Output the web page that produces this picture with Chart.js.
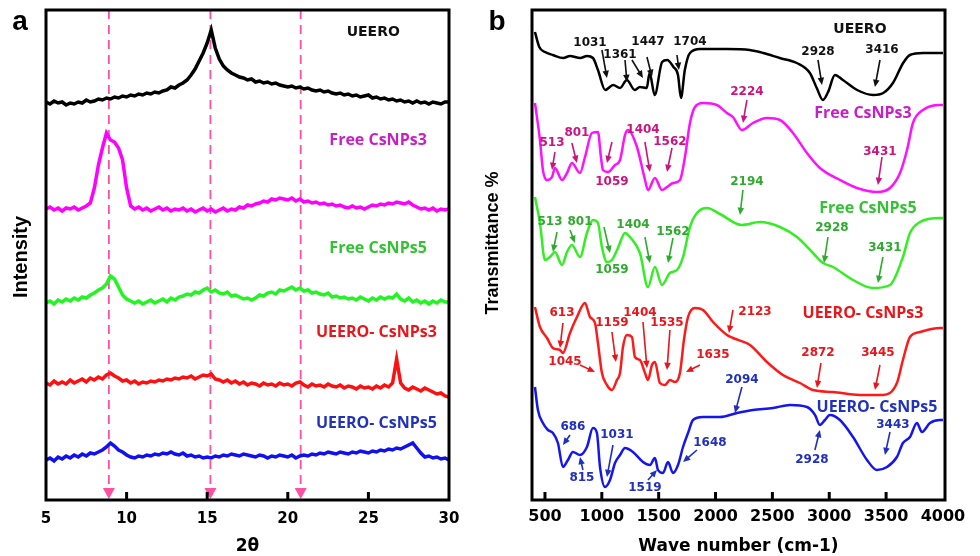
<!DOCTYPE html>
<html>
<head>
<meta charset="utf-8">
<script src="https://cdn.jsdelivr.net/npm/chart.js@4.4.1/dist/chart.umd.min.js"></script>
<style>
  html, body { margin: 0; padding: 0; background: #fff; }
  #wrap { position: relative; width: 980px; height: 556px; overflow: hidden; }
  #xrd { position: absolute; left: 0; top: 0; }
  #ftir { position: absolute; left: 470px; top: 0; }
</style>
</head>
<body>
<div id="wrap">
  <canvas id="xrd" width="470" height="556"></canvas>
  <canvas id="ftir" width="510" height="556"></canvas>
</div>
<script>
// ---------- panel a : XRD, 2θ from 5 to 30 in 0.25° steps ----------
const twoTheta = Array.from({ length: 101 }, (_, i) => 5 + i * 0.25);
const xrdTicks = [5, 10, 15, 20, 25, 30];
const xrdPeakLines = [8.9, 15.2, 20.8];

const xrdUeero = [
  398, 396, 399, 397, 398, 395, 397, 396, 398, 397, 400, 398, 399, 401, 400, 402,
  401, 403, 402, 404, 403, 405, 404, 406, 405, 407, 406, 408, 407, 409, 410, 413,
  412, 415, 417, 420, 425, 431, 439, 447, 457, 470, 452, 441, 434, 430, 427, 425,
  423, 422, 420, 421, 418, 419, 417, 418, 416, 417, 415, 414, 413, 414, 412, 413,
  411, 412, 410, 409, 410, 408, 409, 407, 406, 407, 405, 406, 404, 405, 403, 404,
  405, 402, 403, 401, 402, 400, 401, 399, 400, 398, 399, 397, 399, 397, 398, 396,
  398, 397, 396, 398, 398
];
const xrdFree3 = [
  291, 293, 290, 292, 289, 292, 291, 293, 290, 292, 294, 297, 312, 335, 352, 367,
  360, 358, 352, 340, 312, 294, 291, 293, 290, 292, 289, 291, 293, 290, 292, 289,
  291, 290, 292, 289, 291, 288, 290, 292, 289, 291, 288, 290, 292, 289, 291, 290,
  293, 292, 295, 294, 296, 297, 299, 298, 301, 300, 302, 301, 300, 302, 299, 301,
  298, 299, 297, 298, 296, 297, 295, 296, 294, 295, 293, 292, 294, 292, 293, 291,
  293, 295, 294, 296, 295, 297, 296, 298, 297, 296, 298, 295, 293, 291, 292, 290,
  292, 289, 291, 290, 291
];
const xrdFree5 = [
  197, 199, 196, 200, 198, 201, 199, 202, 200, 203, 202, 205, 207, 210, 212, 216,
  224, 221, 213, 205, 201, 199, 197, 199, 196, 198, 200, 197, 199, 201, 198, 202,
  200, 203, 204, 206, 205, 208, 207, 210, 212, 208, 210, 207, 206, 208, 204, 205,
  203, 201, 202, 200, 202, 205, 204, 207, 208, 206, 210, 209, 211, 213, 210, 212,
  209, 210, 207, 208, 206, 205, 207, 203, 204, 202, 203, 201, 202, 200, 203, 201,
  199, 202, 200, 203, 201, 203, 202, 206, 201, 199, 202, 198, 200, 197, 199, 196,
  199, 197, 200, 198, 198
];
const xrdCs3 = [
  117, 115, 119, 116, 118, 116, 120, 117, 119, 121, 118, 122, 120, 123, 121, 125,
  127, 124, 122, 119, 120, 117, 119, 116, 118, 117, 119, 118, 120, 119, 121, 120,
  122, 121, 123, 122, 124, 121, 123, 125, 124, 126, 121, 120, 118, 120, 117, 119,
  116, 118, 115, 117, 116, 114, 117, 115, 116, 114, 117, 115, 116, 114, 117, 118,
  115, 113, 116, 114, 115, 113, 116, 114, 113, 115, 112, 114, 113, 111, 114, 112,
  113, 111, 114, 112, 115, 113, 117, 141, 117, 112, 110, 113, 111, 109, 112, 110,
  108, 106, 107, 104, 103
];
const xrdCs5 = [
  40, 42, 39, 43, 41, 44, 42, 45, 43, 46, 44, 47, 46, 48, 50, 53,
  57, 54, 50, 48, 45, 43, 42, 44, 43, 45, 44, 46, 45, 47, 46, 48,
  46, 45, 47, 44, 45, 43, 44, 42, 43, 42, 44, 43, 45, 44, 46, 45,
  44, 46, 45, 44, 43, 45, 44, 42, 44, 43, 45, 44, 43, 45, 42, 44,
  45, 44, 46, 45, 47, 46, 48, 47, 46, 48, 47, 46, 48, 47, 49, 48,
  47, 49, 48, 50, 49, 51, 50, 52, 51, 53, 55, 57, 52, 47, 43, 44,
  42, 43, 41, 42, 40
];

const xrdLabels = [
  { text: 'UEERO', x: 25.3, y: 468, color: '#111111', font: 'bold 14px "DejaVu Sans"' },
  { text: 'Free CsNPs3', x: 25.6, y: 360, color: '#c81ec8' },
  { text: 'Free CsNPs5', x: 25.6, y: 252, color: '#33c233' },
  { text: 'UEERO- CsNPs3', x: 25.5, y: 168, color: '#e8161b' },
  { text: 'UEERO- CsNPs5', x: 25.5, y: 77, color: '#2233bb' }
];

// ---------- panel b : FTIR ----------
const ftirTicks = [500, 1000, 1500, 2000, 2500, 3000, 3500, 4000];

const ueeroWn = [412, 450, 500, 570, 660, 720, 810, 870, 922, 966, 1030, 1100, 1160, 1220, 1290, 1335,
  1395, 1420, 1465, 1530, 1575, 1630, 1670, 1696, 1730, 1775, 1865, 2100, 2300, 2420, 2565, 2715,
  2830, 2890, 2945, 2990, 3050, 3120, 3245, 3385, 3475, 3560, 3650, 3710, 3825, 4000];
const ueeroT = [468, 453, 448, 445, 442, 444, 442, 444, 442, 430, 410, 415, 412, 420, 410, 413,
  412, 427, 405, 438, 440, 433, 425, 402, 430, 447, 451, 451, 450, 447, 442, 437,
  427, 412, 400, 408, 425, 420, 410, 405, 407, 417, 437, 445, 447, 447];

const free3Wn = [412, 456, 482, 518, 562, 588, 650, 694, 737, 808, 852, 913, 966, 992, 1010, 1054,
  1116, 1160, 1204, 1230, 1309, 1380, 1406, 1467, 1529, 1573, 1626, 1687, 1731, 1775, 1819, 1890,
  2012, 2100, 2153, 2232, 2329, 2452, 2567, 2681, 2804, 2918, 3094, 3244, 3420, 3534, 3622, 3684,
  3736, 3824, 3974, 4000];
const free3T = [397, 360, 330, 320, 323, 332, 320, 327, 337, 327, 343, 367, 368, 343, 330, 328,
  335, 340, 365, 370, 353, 320, 310, 322, 310, 313, 317, 320, 343, 377, 393, 397,
  395, 387, 383, 370, 377, 382, 380, 367, 347, 332, 320, 312, 308, 312, 327, 350,
  377, 390, 395, 395];

const free5Wn = [412, 456, 500, 544, 588, 650, 694, 737, 808, 869, 922, 966, 1001, 1045, 1089, 1142,
  1204, 1247, 1335, 1406, 1467, 1529, 1599, 1661, 1714, 1775, 1837, 1925, 2039, 2232, 2391, 2567,
  2716, 2857, 2945, 3033, 3209, 3385, 3534, 3648, 3710, 3798, 3974, 4000];
const free5T = [303, 277, 240, 243, 248, 235, 248, 255, 243, 267, 280, 277, 253, 238, 240, 252,
  267, 263, 247, 213, 233, 215, 227, 230, 243, 273, 287, 292, 286, 275, 278, 273,
  263, 247, 237, 233, 220, 212, 215, 243, 267, 278, 282, 282];

const cs3Wn = [412, 456, 518, 570, 632, 658, 720, 781, 852, 896, 940, 966, 1001, 1045, 1089, 1133,
  1160, 1186, 1221, 1265, 1291, 1335, 1380, 1406, 1441, 1467, 1511, 1555, 1599, 1643, 1687, 1722,
  1758, 1819, 1890, 1978, 2101, 2153, 2303, 2452, 2593, 2743, 2857, 3033, 3270, 3472, 3595, 3648,
  3710, 3798, 3974, 4000];
const cs3T = [193, 173, 162, 152, 150, 147, 167, 183, 197, 183, 177, 157, 127, 115, 110, 120,
  127, 153, 165, 163, 143, 140, 127, 120, 135, 138, 117, 115, 120, 118, 127, 160,
  183, 192, 190, 178, 165, 162, 155, 138, 125, 117, 110, 108, 105, 105, 117, 140,
  163, 168, 172, 172];

const cs5Wn = [412, 438, 482, 526, 570, 614, 658, 702, 746, 808, 869, 922, 957, 984, 1028, 1072,
  1116, 1160, 1204, 1274, 1362, 1423, 1467, 1494, 1538, 1582, 1626, 1670, 1714, 1758, 1802, 1890,
  2039, 2188, 2329, 2505, 2655, 2804, 2875, 2918, 2962, 3006, 3094, 3209, 3332, 3420, 3508, 3595,
  3648, 3710, 3771, 3815, 3886, 3974, 4000];
const cs5T = [113, 90, 77, 70, 67, 57, 33, 40, 48, 45, 53, 72, 67, 33, 13, 20,
  37, 45, 52, 48, 38, 35, 42, 30, 27, 38, 27, 35, 53, 67, 80, 83,
  83, 87, 90, 92, 95, 93, 85, 75, 80, 85, 80, 63, 40, 30, 33, 43,
  57, 63, 77, 68, 77, 80, 80];

// peak labels: text position (tx, ty) and arrow from (x1, y1) to tip (x2, y2), all in data units
const ftirNotes = [
  // UEERO
  { t: '1031', c: '#111', tx: 896, ty: 457, x1: 1001, y1: 450, x2: 1045, y2: 422 },
  { t: '1361', c: '#111', tx: 1160, ty: 445, x1: 1204, y1: 440, x2: 1221, y2: 418 },
  { t: '', c: '#111', tx: 0, ty: 0, x1: 1265, y1: 440, x2: 1362, y2: 422 },
  { t: '1447', c: '#111', tx: 1406, ty: 458, x1: 1397, y1: 443, x2: 1441, y2: 423 },
  { t: '1704', c: '#111', tx: 1775, ty: 458, x1: 1661, y1: 445, x2: 1678, y2: 430 },
  { t: '2928', c: '#111', tx: 2901, ty: 448, x1: 2901, y1: 440, x2: 2936, y2: 415 },
  { t: '3416', c: '#111', tx: 3464, ty: 450, x1: 3446, y1: 440, x2: 3402, y2: 413 },
  // Free CsNPs3
  { t: '513', c: '#c8157f', tx: 562, ty: 357, x1: 588, y1: 348, x2: 562, y2: 330 },
  { t: '801', c: '#c8157f', tx: 781, ty: 367, x1: 737, y1: 357, x2: 781, y2: 337 },
  { t: '1059', c: '#c8157f', tx: 1089, ty: 318, x1: 1089, y1: 358, x2: 1045, y2: 337 },
  { t: '1404', c: '#c8157f', tx: 1362, ty: 370, x1: 1379, y1: 358, x2: 1423, y2: 328 },
  { t: '1562', c: '#c8157f', tx: 1599, ty: 358, x1: 1617, y1: 352, x2: 1573, y2: 328 },
  { t: '2224', c: '#c8157f', tx: 2276, ty: 408, x1: 2276, y1: 400, x2: 2241, y2: 377 },
  { t: '3431', c: '#c8157f', tx: 3446, ty: 348, x1: 3464, y1: 343, x2: 3428, y2: 315 },
  // Free CsNPs5
  { t: '513', c: '#2faa2f', tx: 544, ty: 278, x1: 606, y1: 268, x2: 570, y2: 248 },
  { t: '801', c: '#2faa2f', tx: 808, ty: 278, x1: 720, y1: 270, x2: 764, y2: 257 },
  { t: '1059', c: '#2faa2f', tx: 1089, ty: 230, x1: 1019, y1: 273, x2: 1072, y2: 247 },
  { t: '1404', c: '#2faa2f', tx: 1274, ty: 275, x1: 1379, y1: 263, x2: 1423, y2: 237 },
  { t: '1562', c: '#2faa2f', tx: 1626, ty: 268, x1: 1626, y1: 262, x2: 1582, y2: 237 },
  { t: '2194', c: '#2faa2f', tx: 2276, ty: 318, x1: 2241, y1: 310, x2: 2215, y2: 285 },
  { t: '2928', c: '#2faa2f', tx: 3024, ty: 272, x1: 2989, y1: 263, x2: 2954, y2: 237 },
  { t: '3431', c: '#2faa2f', tx: 3490, ty: 252, x1: 3472, y1: 243, x2: 3428, y2: 217 },
  // UEERO- CsNPs3
  { t: '613', c: '#e8161b', tx: 650, ty: 187, x1: 658, y1: 177, x2: 632, y2: 152 },
  { t: '1045', c: '#e8161b', tx: 676, ty: 138, x1: 808, y1: 135, x2: 940, y2: 128 },
  { t: '1159', c: '#e8161b', tx: 1089, ty: 177, x1: 1089, y1: 168, x2: 1124, y2: 138 },
  { t: '1404', c: '#e8161b', tx: 1335, ty: 187, x1: 1362, y1: 178, x2: 1397, y2: 132 },
  { t: '1535', c: '#e8161b', tx: 1573, ty: 177, x1: 1599, y1: 170, x2: 1573, y2: 130 },
  { t: '1635', c: '#e8161b', tx: 1977, ty: 145, x1: 1863, y1: 135, x2: 1740, y2: 128 },
  { t: '2123', c: '#e8161b', tx: 2347, ty: 188, x1: 2153, y1: 190, x2: 2118, y2: 167 },
  { t: '2872', c: '#e8161b', tx: 2901, ty: 147, x1: 2927, y1: 137, x2: 2892, y2: 112 },
  { t: '3445', c: '#e8161b', tx: 3428, ty: 147, x1: 3446, y1: 135, x2: 3402, y2: 110 },
  // UEERO- CsNPs5
  { t: '686', c: '#1f2fbf', tx: 746, ty: 73, x1: 720, y1: 65, x2: 658, y2: 55 },
  { t: '815', c: '#1f2fbf', tx: 825, ty: 22, x1: 834, y1: 30, x2: 808, y2: 43 },
  { t: '1031', c: '#1f2fbf', tx: 1133, ty: 65, x1: 1098, y1: 55, x2: 1045, y2: 23 },
  { t: '1519', c: '#1f2fbf', tx: 1379, ty: 12, x1: 1406, y1: 20, x2: 1485, y2: 30 },
  { t: '1648', c: '#1f2fbf', tx: 1951, ty: 57, x1: 1837, y1: 50, x2: 1714, y2: 38 },
  { t: '2094', c: '#1f2fbf', tx: 2232, ty: 120, x1: 2232, y1: 113, x2: 2171, y2: 87 },
  { t: '2928', c: '#1f2fbf', tx: 2848, ty: 40, x1: 2874, y1: 50, x2: 2918, y2: 70 },
  { t: '3443', c: '#1f2fbf', tx: 3560, ty: 75, x1: 3534, y1: 68, x2: 3490, y2: 45 }
];

const ftirLabels = [
  { text: 'UEERO', x: 3270, y: 471, color: '#111111', font: 'bold 14px "DejaVu Sans"' },
  { text: 'Free CsNPs3', x: 3297, y: 387, color: '#c81ec8' },
  { text: 'Free CsNPs5', x: 3341, y: 292, color: '#33c233' },
  { text: 'UEERO- CsNPs3', x: 3297, y: 187, color: '#e8161b' },
  { text: 'UEERO- CsNPs5', x: 3420, y: 93, color: '#2233bb' }
];

// ---------- helpers ----------
const seriesFont = 'bold 16px "Open Sans"';

function drawArrow(ctx, x1, y1, x2, y2, color, head) {
  const ang = Math.atan2(y2 - y1, x2 - x1);
  ctx.strokeStyle = color;
  ctx.fillStyle = color;
  ctx.lineWidth = 1.6;
  ctx.beginPath();
  ctx.moveTo(x1, y1);
  ctx.lineTo(x2 - Math.cos(ang) * head * 0.7, y2 - Math.sin(ang) * head * 0.7);
  ctx.stroke();
  ctx.beginPath();
  ctx.moveTo(x2, y2);
  ctx.lineTo(x2 - head * Math.cos(ang - 0.42), y2 - head * Math.sin(ang - 0.42));
  ctx.lineTo(x2 - head * Math.cos(ang + 0.42), y2 - head * Math.sin(ang + 0.42));
  ctx.closePath();
  ctx.fill();
}

function drawFrame(chart, ticks) {
  const { ctx, chartArea: a, scales } = chart;
  ctx.save();
  ctx.fillStyle = '#000';
  ticks.forEach(v => {
    const px = scales.x.getPixelForValue(v);
    if (px > a.left + 4 && px < a.right - 4) ctx.fillRect(px - 1.5, a.bottom - 8, 3, 8);
  });
  ctx.strokeStyle = '#000';
  ctx.lineWidth = 3;
  ctx.strokeRect(a.left, a.top, a.right - a.left, a.bottom - a.top);
  ctx.restore();
}

function drawLabels(chart, labels) {
  const { ctx, scales } = chart;
  ctx.save();
  ctx.textAlign = 'center';
  ctx.textBaseline = 'middle';
  labels.forEach(l => {
    ctx.font = l.font || seriesFont;
    ctx.fillStyle = l.color;
    ctx.fillText(l.text, scales.x.getPixelForValue(l.x), scales.y.getPixelForValue(l.y));
  });
  ctx.restore();
}

function drawSideText(ctx, text, x, y, font, rotate) {
  ctx.save();
  ctx.translate(x, y);
  if (rotate) ctx.rotate(-Math.PI / 2);
  ctx.font = font;
  ctx.fillStyle = '#000';
  ctx.textAlign = 'center';
  ctx.textBaseline = 'middle';
  ctx.fillText(text, 0, 0);
  ctx.restore();
}

const xrdDecor = {
  id: 'xrdDecor',
  beforeDatasetsDraw(chart) {
    const { ctx, chartArea: a, scales } = chart;
    ctx.save();
    ctx.strokeStyle = '#ff4fa3';
    ctx.fillStyle = '#ff4fa3';
    ctx.lineWidth = 1.8;
    xrdPeakLines.forEach(v => {
      const px = scales.x.getPixelForValue(v);
      ctx.setLineDash([9, 6]);
      ctx.beginPath();
      ctx.moveTo(px, a.top);
      ctx.lineTo(px, a.bottom - 10);
      ctx.stroke();
      ctx.setLineDash([]);
      ctx.beginPath();
      ctx.moveTo(px - 6, a.bottom - 12);
      ctx.lineTo(px + 6, a.bottom - 12);
      ctx.lineTo(px, a.bottom - 1);
      ctx.closePath();
      ctx.fill();
    });
    ctx.restore();
  },
  afterDatasetsDraw(chart) {
    drawFrame(chart, xrdTicks);
    drawLabels(chart, xrdLabels);
    const ctx = chart.ctx;
    drawSideText(ctx, 'a', 20, 22, 'bold 28px "Liberation Sans"', false);
    drawSideText(ctx, 'Intensity', 21, 257, 'bold 20px "Liberation Sans"', true);
  }
};

const ftirDecor = {
  id: 'ftirDecor',
  afterDatasetsDraw(chart) {
    const { ctx, scales } = chart;
    drawFrame(chart, ftirTicks);
    ctx.save();
    ctx.textAlign = 'center';
    ctx.textBaseline = 'middle';
    ctx.font = 'bold 12px "DejaVu Sans"';
    ftirNotes.forEach(n => {
      drawArrow(ctx, scales.x.getPixelForValue(n.x1), scales.y.getPixelForValue(n.y1),
        scales.x.getPixelForValue(n.x2), scales.y.getPixelForValue(n.y2), n.c, 8);
      if (n.t) {
        ctx.fillStyle = n.c;
        ctx.fillText(n.t, scales.x.getPixelForValue(n.tx), scales.y.getPixelForValue(n.ty));
      }
    });
    ctx.restore();
    drawLabels(chart, ftirLabels);
    drawSideText(ctx, 'b', 27, 22, 'bold 28px "Liberation Sans"', false);
    drawSideText(ctx, 'Transmittance %', 23, 243, 'bold 18px "Liberation Sans"', true);
  }
};

function pts(xs, ys) {
  return xs.map((x, i) => ({ x: x, y: ys[i] }));
}

function xAxis(min, max, ticks, title, fontSize, pad) {
  return {
    type: 'linear',
    min: min,
    max: max,
    afterBuildTicks: (scale) => { scale.ticks = ticks.map(v => ({ value: v })); },
    afterFit: (scale) => { scale.height = 56; },
    grid: { display: false, drawTicks: false },
    border: { display: false },
    ticks: {
      color: '#000',
      padding: pad,
      maxRotation: 0,
      autoSkip: false,
      font: { family: 'DejaVu Sans', weight: 'bold', size: fontSize },
      callback: (v) => String(v)
    },
    title: {
      display: true,
      text: title,
      color: '#000',
      padding: { top: 0, bottom: 0 },
      font: { family: 'DejaVu Sans', weight: 'bold', size: 17, lineHeight: 1.1 }
    }
  };
}

const common = {
  responsive: false,
  animation: false,
  events: [],
  plugins: { legend: { display: false }, tooltip: { enabled: false } },
  elements: { point: { radius: 0 } }
};

// ---------- chart a ----------
const xrdSeries = [
  [xrdUeero, '#000000'],
  [xrdFree3, '#ff00ff'],
  [xrdFree5, '#22f522'],
  [xrdCs3, '#ff1010'],
  [xrdCs5, '#1010f0']
];

new Chart(document.getElementById('xrd'), {
  type: 'line',
  data: {
    datasets: xrdSeries.map(([vals, col]) => ({
      data: pts(twoTheta, vals),
      borderColor: col,
      borderWidth: 3.5,
      tension: 0
    }))
  },
  options: Object.assign({}, common, {
    layout: { padding: { left: 46, right: 21, top: 10, bottom: 0 } },
    scales: {
      x: xAxis(5, 30, xrdTicks, '2θ', 15, 10),
      y: { display: false, min: 0, max: 490 }
    }
  }),
  plugins: [xrdDecor]
});

// ---------- chart b ----------
const ftirSeries = [
  [ueeroWn, ueeroT, '#000000'],
  [free3Wn, free3T, '#ff10ff'],
  [free5Wn, free5T, '#33ee22'],
  [cs3Wn, cs3T, '#ff1a1a'],
  [cs5Wn, cs5T, '#1515ee']
];

new Chart(document.getElementById('ftir'), {
  type: 'line',
  data: {
    datasets: ftirSeries.map(([wn, t, col]) => ({
      data: pts(wn, t),
      borderColor: col,
      borderWidth: 2.5,
      cubicInterpolationMode: 'monotone'
    }))
  },
  options: Object.assign({}, common, {
    layout: { padding: { left: 62, right: 35, top: 10, bottom: 0 } },
    scales: {
      x: xAxis(386, 4018, ftirTicks, 'Wave number (cm-1)', 16, 7),
      y: { display: false, min: 0, max: 490 }
    }
  }),
  plugins: [ftirDecor]
});
</script>
</body>
</html>
